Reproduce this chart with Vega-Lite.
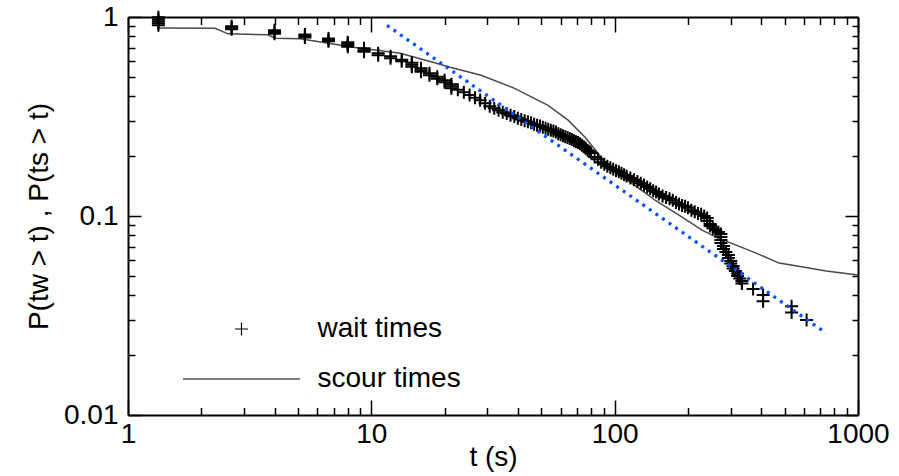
{
  "$schema": "https://vega.github.io/schema/vega-lite/v6.json",
  "width": 730,
  "height": 398,
  "autosize": {"type": "none"},
  "padding": {"left": 128, "top": 17, "right": 41, "bottom": 61},
  "background": "white",
  "config": {
    "view": {"stroke": null},
    "font": "Liberation Sans",
    "axis": {
      "grid": false,
      "domainColor": "black",
      "domainWidth": 2,
      "tickColor": "black",
      "tickWidth": 1.5,
      "labelColor": "black",
      "labelFont": "Liberation Sans",
      "labelFontSize": 28,
      "labelOverlap": false,
      "labelFlush": false,
      "labelBound": false,
      "titleColor": "black",
      "titleFont": "Liberation Sans",
      "titleFontSize": 28,
      "titleFontWeight": "normal"
    }
  },
  "datasets": {
    "wait": [
      {"t": 1.3333, "P": 0.997, "series": "wait times"},
      {"t": 1.3333, "P": 0.974, "series": "wait times"},
      {"t": 1.3333, "P": 0.951, "series": "wait times"},
      {"t": 1.3333, "P": 0.930, "series": "wait times"},
      {"t": 1.3333, "P": 0.908, "series": "wait times"},
      {"t": 2.6667, "P": 0.898, "series": "wait times"},
      {"t": 2.6667, "P": 0.883, "series": "wait times"},
      {"t": 2.6667, "P": 0.867, "series": "wait times"},
      {"t": 4.0, "P": 0.858, "series": "wait times"},
      {"t": 4.0, "P": 0.841, "series": "wait times"},
      {"t": 4.0, "P": 0.825, "series": "wait times"},
      {"t": 5.3333, "P": 0.816, "series": "wait times"},
      {"t": 5.3333, "P": 0.802, "series": "wait times"},
      {"t": 5.3333, "P": 0.788, "series": "wait times"},
      {"t": 6.6667, "P": 0.779, "series": "wait times"},
      {"t": 6.6667, "P": 0.766, "series": "wait times"},
      {"t": 6.6667, "P": 0.755, "series": "wait times"},
      {"t": 8.0, "P": 0.746, "series": "wait times"},
      {"t": 8.0, "P": 0.734, "series": "wait times"},
      {"t": 8.0, "P": 0.721, "series": "wait times"},
      {"t": 8.0, "P": 0.709, "series": "wait times"},
      {"t": 9.3333, "P": 0.697, "series": "wait times"},
      {"t": 9.3333, "P": 0.681, "series": "wait times"},
      {"t": 9.3333, "P": 0.669, "series": "wait times"},
      {"t": 10.667, "P": 0.657, "series": "wait times"},
      {"t": 10.667, "P": 0.642, "series": "wait times"},
      {"t": 12.0, "P": 0.635, "series": "wait times"},
      {"t": 12.0, "P": 0.621, "series": "wait times"},
      {"t": 13.333, "P": 0.610, "series": "wait times"},
      {"t": 13.333, "P": 0.599, "series": "wait times"},
      {"t": 14.667, "P": 0.589, "series": "wait times"},
      {"t": 14.667, "P": 0.576, "series": "wait times"},
      {"t": 14.667, "P": 0.562, "series": "wait times"},
      {"t": 16.0, "P": 0.553, "series": "wait times"},
      {"t": 16.0, "P": 0.540, "series": "wait times"},
      {"t": 16.0, "P": 0.531, "series": "wait times"},
      {"t": 17.333, "P": 0.522, "series": "wait times"},
      {"t": 17.333, "P": 0.510, "series": "wait times"},
      {"t": 18.667, "P": 0.501, "series": "wait times"},
      {"t": 18.667, "P": 0.490, "series": "wait times"},
      {"t": 20.0, "P": 0.481, "series": "wait times"},
      {"t": 20.0, "P": 0.470, "series": "wait times"},
      {"t": 21.333, "P": 0.459, "series": "wait times"},
      {"t": 21.333, "P": 0.449, "series": "wait times"},
      {"t": 21.333, "P": 0.439, "series": "wait times"},
      {"t": 22.667, "P": 0.431, "series": "wait times"},
      {"t": 24.0, "P": 0.419, "series": "wait times"},
      {"t": 25.333, "P": 0.405, "series": "wait times"},
      {"t": 26.667, "P": 0.393, "series": "wait times"},
      {"t": 28.0, "P": 0.382, "series": "wait times"},
      {"t": 29.333, "P": 0.369, "series": "wait times"},
      {"t": 30.667, "P": 0.356, "series": "wait times"},
      {"t": 32.0, "P": 0.348, "series": "wait times"},
      {"t": 33.333, "P": 0.340, "series": "wait times"},
      {"t": 34.667, "P": 0.332, "series": "wait times"},
      {"t": 36.0, "P": 0.327, "series": "wait times"},
      {"t": 37.333, "P": 0.321, "series": "wait times"},
      {"t": 38.667, "P": 0.316, "series": "wait times"},
      {"t": 40.0, "P": 0.310, "series": "wait times"},
      {"t": 41.333, "P": 0.305, "series": "wait times"},
      {"t": 42.667, "P": 0.301, "series": "wait times"},
      {"t": 44.0, "P": 0.298, "series": "wait times"},
      {"t": 45.333, "P": 0.294, "series": "wait times"},
      {"t": 46.667, "P": 0.289, "series": "wait times"},
      {"t": 48.0, "P": 0.286, "series": "wait times"},
      {"t": 49.333, "P": 0.283, "series": "wait times"},
      {"t": 50.667, "P": 0.279, "series": "wait times"},
      {"t": 52.0, "P": 0.276, "series": "wait times"},
      {"t": 53.333, "P": 0.273, "series": "wait times"},
      {"t": 54.667, "P": 0.270, "series": "wait times"},
      {"t": 56.0, "P": 0.267, "series": "wait times"},
      {"t": 57.333, "P": 0.264, "series": "wait times"},
      {"t": 58.667, "P": 0.259, "series": "wait times"},
      {"t": 60.0, "P": 0.256, "series": "wait times"},
      {"t": 61.333, "P": 0.253, "series": "wait times"},
      {"t": 62.667, "P": 0.250, "series": "wait times"},
      {"t": 64.0, "P": 0.248, "series": "wait times"},
      {"t": 65.333, "P": 0.245, "series": "wait times"},
      {"t": 66.667, "P": 0.242, "series": "wait times"},
      {"t": 68.0, "P": 0.239, "series": "wait times"},
      {"t": 69.333, "P": 0.236, "series": "wait times"},
      {"t": 70.667, "P": 0.234, "series": "wait times"},
      {"t": 72.0, "P": 0.231, "series": "wait times"},
      {"t": 73.333, "P": 0.227, "series": "wait times"},
      {"t": 74.667, "P": 0.223, "series": "wait times"},
      {"t": 76.0, "P": 0.219, "series": "wait times"},
      {"t": 77.333, "P": 0.214, "series": "wait times"},
      {"t": 78.667, "P": 0.211, "series": "wait times"},
      {"t": 80.0, "P": 0.207, "series": "wait times"},
      {"t": 82.667, "P": 0.198, "series": "wait times"},
      {"t": 85.333, "P": 0.193, "series": "wait times"},
      {"t": 88.0, "P": 0.186, "series": "wait times"},
      {"t": 90.667, "P": 0.182, "series": "wait times"},
      {"t": 93.333, "P": 0.178, "series": "wait times"},
      {"t": 96.0, "P": 0.175, "series": "wait times"},
      {"t": 98.667, "P": 0.172, "series": "wait times"},
      {"t": 101.33, "P": 0.169, "series": "wait times"},
      {"t": 104.0, "P": 0.167, "series": "wait times"},
      {"t": 106.67, "P": 0.164, "series": "wait times"},
      {"t": 109.33, "P": 0.161, "series": "wait times"},
      {"t": 112.0, "P": 0.159, "series": "wait times"},
      {"t": 116.0, "P": 0.155, "series": "wait times"},
      {"t": 120.0, "P": 0.152, "series": "wait times"},
      {"t": 124.0, "P": 0.149, "series": "wait times"},
      {"t": 128.0, "P": 0.146, "series": "wait times"},
      {"t": 132.0, "P": 0.143, "series": "wait times"},
      {"t": 136.0, "P": 0.140, "series": "wait times"},
      {"t": 140.0, "P": 0.137, "series": "wait times"},
      {"t": 144.0, "P": 0.134, "series": "wait times"},
      {"t": 148.0, "P": 0.132, "series": "wait times"},
      {"t": 152.0, "P": 0.129, "series": "wait times"},
      {"t": 157.33, "P": 0.126, "series": "wait times"},
      {"t": 162.67, "P": 0.124, "series": "wait times"},
      {"t": 168.0, "P": 0.122, "series": "wait times"},
      {"t": 173.33, "P": 0.120, "series": "wait times"},
      {"t": 178.67, "P": 0.117, "series": "wait times"},
      {"t": 184.0, "P": 0.115, "series": "wait times"},
      {"t": 189.33, "P": 0.113, "series": "wait times"},
      {"t": 194.67, "P": 0.112, "series": "wait times"},
      {"t": 200.0, "P": 0.110, "series": "wait times"},
      {"t": 206.67, "P": 0.107, "series": "wait times"},
      {"t": 213.33, "P": 0.105, "series": "wait times"},
      {"t": 220.0, "P": 0.103, "series": "wait times"},
      {"t": 226.67, "P": 0.102, "series": "wait times"},
      {"t": 233.33, "P": 0.100, "series": "wait times"},
      {"t": 240.0, "P": 0.0976, "series": "wait times"},
      {"t": 240.0, "P": 0.0943, "series": "wait times"},
      {"t": 246.67, "P": 0.0911, "series": "wait times"},
      {"t": 246.67, "P": 0.0890, "series": "wait times"},
      {"t": 253.33, "P": 0.0869, "series": "wait times"},
      {"t": 260.0, "P": 0.0850, "series": "wait times"},
      {"t": 266.67, "P": 0.0830, "series": "wait times"},
      {"t": 273.33, "P": 0.0811, "series": "wait times"},
      {"t": 273.33, "P": 0.0784, "series": "wait times"},
      {"t": 273.33, "P": 0.0757, "series": "wait times"},
      {"t": 273.33, "P": 0.0731, "series": "wait times"},
      {"t": 280.0, "P": 0.0706, "series": "wait times"},
      {"t": 280.0, "P": 0.0682, "series": "wait times"},
      {"t": 286.67, "P": 0.0659, "series": "wait times"},
      {"t": 293.33, "P": 0.0636, "series": "wait times"},
      {"t": 293.33, "P": 0.0615, "series": "wait times"},
      {"t": 300.0, "P": 0.0594, "series": "wait times"},
      {"t": 300.0, "P": 0.0577, "series": "wait times"},
      {"t": 306.67, "P": 0.0560, "series": "wait times"},
      {"t": 306.67, "P": 0.0544, "series": "wait times"},
      {"t": 313.33, "P": 0.0529, "series": "wait times"},
      {"t": 320.0, "P": 0.0514, "series": "wait times"},
      {"t": 320.0, "P": 0.0499, "series": "wait times"},
      {"t": 326.67, "P": 0.0485, "series": "wait times"},
      {"t": 333.33, "P": 0.0471, "series": "wait times"},
      {"t": 333.33, "P": 0.0458, "series": "wait times"},
      {"t": 370.6, "P": 0.0430, "series": "wait times"},
      {"t": 407.3, "P": 0.0401, "series": "wait times"},
      {"t": 407.3, "P": 0.0373, "series": "wait times"},
      {"t": 533.4, "P": 0.0352, "series": "wait times"},
      {"t": 533.4, "P": 0.0327, "series": "wait times"},
      {"t": 614.8, "P": 0.0300, "series": "wait times"}
    ],
    "scour": [
      {"t": 1.316, "P": 0.881},
      {"t": 2.279, "P": 0.878},
      {"t": 2.576, "P": 0.823},
      {"t": 3.762, "P": 0.814},
      {"t": 4.020, "P": 0.782},
      {"t": 5.093, "P": 0.777},
      {"t": 6.576, "P": 0.740},
      {"t": 8.41, "P": 0.705},
      {"t": 10.55, "P": 0.681},
      {"t": 13.12, "P": 0.657},
      {"t": 17.93, "P": 0.592},
      {"t": 21.06, "P": 0.559},
      {"t": 28.25, "P": 0.510},
      {"t": 38.59, "P": 0.439},
      {"t": 53.24, "P": 0.360},
      {"t": 64.36, "P": 0.303},
      {"t": 75.57, "P": 0.249},
      {"t": 85.46, "P": 0.207},
      {"t": 93.96, "P": 0.176},
      {"t": 117.9, "P": 0.146},
      {"t": 146.6, "P": 0.120},
      {"t": 189.3, "P": 0.0988},
      {"t": 228.7, "P": 0.0849},
      {"t": 261.1, "P": 0.0783},
      {"t": 315.5, "P": 0.0714},
      {"t": 381.3, "P": 0.0651},
      {"t": 474.0, "P": 0.0580},
      {"t": 594.8, "P": 0.0554},
      {"t": 739.5, "P": 0.0529},
      {"t": 1000, "P": 0.0505}
    ],
    "fit": [
      {"t": 11.6, "P": 0.908},
      {"t": 739, "P": 0.0258}
    ]
  },
  "layer": [
    {
      "data": {"name": "scour"},
      "mark": {"type": "line", "color": "#4a4a4a", "strokeWidth": 1.5},
      "encoding": {
        "x": {
          "field": "t", "type": "quantitative",
          "scale": {"type": "log", "domain": [1, 1000], "nice": false},
          "axis": {
            "orient": "bottom",
            "title": "t (s)",
            "titlePadding": -12,
            "values": [1,2,3,4,5,6,7,8,9,10,20,30,40,50,60,70,80,90,100,200,300,400,500,600,700,800,900,1000],
            "labelExpr": "datum.value == 1 || datum.value == 10 || datum.value == 100 || datum.value == 1000 ? '' + datum.value : ''",
            "tickSize": {"condition": {"test": "datum.value == 1 || datum.value == 10 || datum.value == 100 || datum.value == 1000", "value": -15}, "value": -7.5},
            "labelPadding": 20
          }
        },
        "y": {
          "field": "P", "type": "quantitative",
          "scale": {"type": "log", "domain": [0.01, 1], "nice": false},
          "axis": {
            "orient": "left",
            "title": "P(tw > t) , P(ts > t)",
            "titlePadding": 10,
            "values": [0.01,0.02,0.03,0.04,0.05,0.06,0.07,0.08,0.09,0.1,0.2,0.3,0.4,0.5,0.6,0.7,0.8,0.9,1],
            "labelExpr": "datum.value == 1 ? '1' : datum.value == 0.1 ? '0.1' : datum.value == 0.01 ? '0.01' : ''",
            "tickSize": {"condition": {"test": "datum.value == 1 || datum.value == 0.1 || datum.value == 0.01", "value": -13}, "value": -7},
            "labelPadding": 23
          }
        }
      }
    },
    {
      "data": {"name": "wait"},
      "mark": {"type": "point", "filled": false, "color": "black", "strokeWidth": 2, "size": 169, "opacity": 1},
      "encoding": {
        "x": {
          "field": "t", "type": "quantitative",
          "axis": {
            "orient": "top",
            "title": null,
            "labels": false,
            "values": [1,2,3,4,5,6,7,8,9,10,20,30,40,50,60,70,80,90,100,200,300,400,500,600,700,800,900,1000],
            "tickSize": {"condition": {"test": "datum.value == 1 || datum.value == 10 || datum.value == 100 || datum.value == 1000", "value": -15}, "value": -7.5}
          }
        },
        "y": {
          "field": "P", "type": "quantitative",
          "axis": {
            "orient": "right",
            "title": null,
            "labels": false,
            "values": [0.01,0.02,0.03,0.04,0.05,0.06,0.07,0.08,0.09,0.1,0.2,0.3,0.4,0.5,0.6,0.7,0.8,0.9,1],
            "tickSize": {"condition": {"test": "datum.value == 1 || datum.value == 0.1 || datum.value == 0.01", "value": -13}, "value": -6}
          }
        },
        "shape": {
          "field": "series", "type": "nominal",
          "scale": {"domain": ["wait times", "scour times"], "range": ["M-1,0H1M0,-1V1", "M-9,0H9"]},
          "legend": {
            "orient": "none",
            "legendX": 99.5,
            "legendY": 298,
            "title": null,
            "padding": 0,
            "symbolSize": 169,
            "symbolStrokeWidth": 1.2,
            "symbolStrokeColor": "black",
            "symbolFillColor": "transparent",
            "labelFont": "Liberation Sans",
            "labelFontSize": 28,
            "labelColor": "black",
            "labelOffset": 62,
            "labelLimit": 300,
            "rowPadding": 22
          }
        }
      }
    },
    {
      "data": {"name": "fit"},
      "mark": {"type": "line", "color": "#0a50ff", "strokeWidth": 3.3, "strokeDash": [3, 5], "strokeCap": "butt"},
      "encoding": {
        "x": {"field": "t", "type": "quantitative", "axis": null},
        "y": {"field": "P", "type": "quantitative", "axis": null}
      }
    }
  ],
  "resolve": {"axis": {"x": "independent", "y": "independent"}}
}
